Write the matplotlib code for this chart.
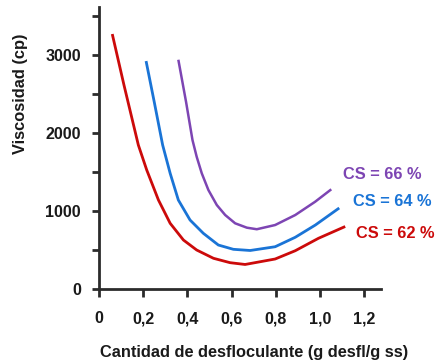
import matplotlib
matplotlib.use("Agg")
import matplotlib.pyplot as plt

plt.rcParams["font.family"] = ["Liberation Sans", "DejaVu Sans"]
plt.rcParams["font.weight"] = "bold"

RED = "#cc0a0a"
BLUE = "#1a74d6"
PURPLE = "#7d45b3"
DARK = "#2b2b2b"

# CS = 62 %
x_62 = [0.060, 0.113, 0.178, 0.216, 0.269, 0.322, 0.382, 0.442, 0.518, 0.593,
        0.661, 0.797, 0.888, 0.993, 1.114]
y_62 = [3264, 2611, 1843, 1523, 1139, 841, 627, 499, 393, 337,
        314, 384, 490, 649, 800]

# CS = 64 %
x_64 = [0.213, 0.250, 0.288, 0.322, 0.359, 0.412, 0.472, 0.540, 0.608, 0.684,
        0.797, 0.888, 0.979, 1.087]
y_64 = [2918, 2394, 1843, 1481, 1139, 883, 713, 563, 508, 493,
        541, 662, 819, 1037]

# CS = 66 %
x_66 = [0.359, 0.394, 0.423, 0.442, 0.465, 0.495, 0.533, 0.571, 0.616, 0.669,
        0.714, 0.797, 0.888, 0.978, 1.051]
y_66 = [2935, 2394, 1907, 1693, 1481, 1267, 1075, 947, 841, 785,
        765, 819, 947, 1117, 1276]

x_ticks = [0, 0.2, 0.4, 0.6, 0.8, 1.0, 1.2]
x_tick_labels = ["0", "0,2", "0,4", "0,6", "0,8", "1,0", "1,2"]
y_ticks = [0, 500, 1000, 1500, 2000, 2500, 3000, 3500]
y_tick_labels = ["0", "", "1000", "", "2000", "", "3000", ""]

fig = plt.figure(figsize=(4.37, 3.61), dpi=100)
ax = fig.add_axes([99 / 437, 1 - 289 / 361, 282 / 437, 282 / 361])

ax.plot(x_62, y_62, color=RED, lw=2.0, solid_capstyle="butt", solid_joinstyle="round")
ax.plot(x_64, y_64, color=BLUE, lw=2.0, solid_capstyle="butt", solid_joinstyle="round")
ax.plot(x_66, y_66, color=PURPLE, lw=1.8, solid_capstyle="butt", solid_joinstyle="round")

ax.set_xlim(0, 1.276)
ax.set_ylim(0, 3610)

ax.spines["top"].set_visible(False)
ax.spines["right"].set_visible(False)
for side in ("left", "bottom"):
    ax.spines[side].set_color(DARK)
    ax.spines[side].set_linewidth(2.0)

ax.set_xticks(x_ticks, x_tick_labels)
ax.set_yticks(y_ticks, y_tick_labels)
ax.tick_params(axis="x", direction="out", length=6, width=2.0, color=DARK,
               pad=10, labelsize=11.5, labelcolor="#1a1a1a")
ax.tick_params(axis="y", direction="out", length=5, width=2.0, color=DARK,
               pad=8, labelsize=11.5, labelcolor="#1a1a1a")

fig.text(21 / 437, 1 - 94 / 361, "Viscosidad (cp)", rotation=90, ha="center", va="center",
         fontsize=11.8, fontweight="bold", color="#1a1a1a")
fig.text(254 / 437, 1 - 352 / 361, "Cantidad de desfloculante (g desfl/g ss)",
         ha="center", va="center", fontsize=11.8, fontweight="bold", color="#1a1a1a")

fig.text(343 / 437, 1 - 174 / 361, "CS = 66 %", ha="left", va="center",
         fontsize=11.8, fontweight="bold", color=PURPLE)
fig.text(353 / 437, 1 - 202 / 361, "CS = 64 %", ha="left", va="center",
         fontsize=11.8, fontweight="bold", color=BLUE)
fig.text(356 / 437, 1 - 233 / 361, "CS = 62 %", ha="left", va="center",
         fontsize=11.8, fontweight="bold", color=RED)

fig.savefig("out.png", dpi=100, facecolor="white")
